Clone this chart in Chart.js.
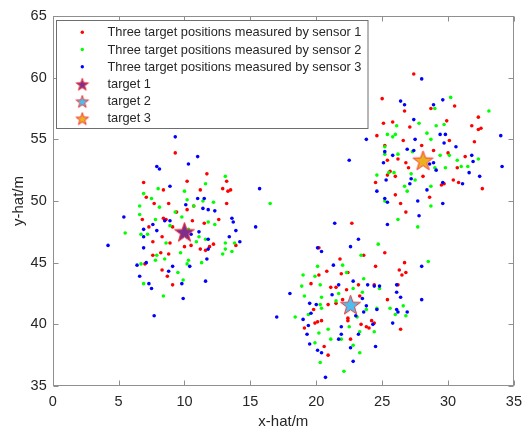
<!DOCTYPE html>
<html>
<head>
<meta charset="utf-8">
<script src="https://cdn.jsdelivr.net/npm/chart.js@4"></script>
<style>
  html, body { margin: 0; padding: 0; background: #fff; }
</style>
</head>
<body>
<canvas id="plot" width="529" height="429"></canvas>
<script>
// measured positions, one list per sensor, [x, y] in metres
const sensor1 = [
  [9.3,53.9],[11.7,52.2],[6.9,51.5],[10.2,51.6],[13.2,51.6],[12.9,51.0],[13.3,50.8],[13.5,50.9],[11.2,50.9],[8.4,50.9],
  [7.1,50.3],[7.7,49.8],[8.8,49.8],[13.2,49.8],[10.2,49.3],[10.7,49.6],[9.4,49.1],[6.8,48.5],[8.4,48.6],[8.6,48.5],
  [10.6,48.4],[12.6,48.5],[11.5,48.2],[7.3,47.9],[9.1,47.9],[8.3,47.1],[8.9,46.6],[10.0,46.3],[10.5,46.4],[11.2,46.1],
  [11.9,46.3],[7.6,46.7],[7.6,45.6],[8.2,45.8],[8.8,45.7],[11.6,46.0],[12.2,46.5],[13.9,46.4],[8.3,44.4],[8.7,43.9],
  [9.1,43.2],[7.0,44.9],
  [22.7,48.2],[20.2,46.2],[21.8,45.3],[23.6,45.6],[24.5,44.7],[25.2,45.8],[26.7,45.0],[26.3,44.4],[26.8,44.2],[26.5,44.0],
  [20.8,44.3],[20.2,44.0],[19.6,43.3],[21.9,44.1],[22.4,44.2],[23.2,43.2],[24.4,43.2],[26.2,43.2],[21.1,43.0],[21.5,43.0],
  [22.3,42.8],[23.3,42.3],[22.0,42.0],[21.5,41.7],[20.9,41.6],[25.4,42.0],[19.8,41.2],[20.1,40.2],[19.9,40.1],[20.4,40.3],
  [19.1,39.7],[22.4,40.5],[22.4,40.3],[23.4,40.0],[23.8,39.8],[24.0,39.7],[24.4,40.1],[24.2,40.3],[26.4,39.6],[22.6,38.8],
  [20.6,38.2],[20.9,37.5],
  [27.4,60.3],[25.0,58.3],[26.7,57.3],[28.7,57.5],[30.5,57.7],[25.1,56.3],[25.8,56.4],[27.1,56.0],[29.9,56.5],[32.3,56.8],
  [31.8,56.1],[32.5,55.9],[32.3,55.8],[24.6,55.3],[25.2,54.5],[26.6,54.9],[28.0,54.5],[30.1,54.9],[32.0,54.8],[26.2,53.4],
  [26.8,53.1],[27.0,52.7],[25.4,53.3],[28.9,54.1],[30.0,53.9],[31.3,53.6],[30.7,52.7],[25.4,52.1],[26.0,52.0],[25.6,52.4],
  [28.1,52.0],[30.4,51.7],[30.8,51.5],[29.7,51.4],[29.5,51.3],[24.5,51.5],[26.0,50.5],[26.4,49.8],[26.8,49.1],[28.6,50.3],
  [32.6,51.0]
];
const sensor2 = [
  [13.1,52.0],[11.6,51.4],[6.9,50.6],[7.5,50.2],[8.0,51.0],[10.0,50.8],[10.2,50.1],[12.2,49.9],[10.7,49.6],[6.6,49.6],
  [8.1,49.5],[9.3,49.1],[9.8,48.7],[7.8,48.5],[6.6,48.9],[5.5,47.4],[7.2,47.3],[6.7,47.3],[8.9,48.0],[11.8,48.3],
  [12.3,48.1],[10.3,47.7],[11.1,47.1],[10.9,46.7],[8.6,46.6],[7.9,45.6],[7.8,45.2],[8.5,45.3],[9.7,45.8],[10.3,45.2],
  [10.2,44.9],[11.3,45.0],[13.1,46.6],[13.1,46.1],[13.6,45.9],[12.9,45.7],[13.8,46.6],[11.6,46.9],[9.5,44.2],[9.9,43.6],
  [6.9,43.3],[8.4,42.3],[16.5,49.8],[11.4,50.0],[6.7,44.9],
  [24.7,46.5],[23.4,45.6],[28.5,45.1],[22.0,44.8],[20.1,44.7],[19.9,43.9],[19.0,44.0],[23.6,43.7],[22.3,44.2],[20.3,43.2],
  [18.9,43.1],[19.1,42.3],[20.4,42.2],[21.7,42.5],[22.8,42.9],[23.5,42.6],[24.8,42.9],[21.5,41.9],[20.3,41.6],[20.4,41.3],
  [18.4,40.6],[19.4,40.8],[23.8,41.2],[24.6,41.3],[25.6,41.3],[26.6,41.5],[26.8,40.7],[26.0,40.8],[22.5,39.8],[23.1,40.6],
  [20.9,39.6],[20.2,39.3],[21.1,38.8],[21.9,38.8],[23.3,39.4],[24.4,39.4],[19.9,38.5],[22.8,38.3],[23.3,37.7],[20.3,36.9],
  [22.1,36.2],
  [30.2,58.4],[29.0,57.5],[33.1,57.3],[26.1,56.1],[27.8,56.3],[29.1,56.1],[29.7,56.2],[25.4,55.4],[26.0,55.4],[25.8,55.2],
  [25.2,54.4],[28.4,55.5],[28.7,55.0],[27.3,54.0],[26.2,53.8],[25.2,53.8],[29.4,53.7],[30.1,53.7],[30.7,53.3],[31.0,52.8],
  [31.5,52.8],[32.3,53.4],[29.0,52.7],[27.2,52.2],[27.5,51.7],[24.6,52.1],[25.5,52.3],[25.9,52.3],[26.7,51.2],[26.9,50.8],
  [28.7,51.2],[25.2,50.0],[26.2,48.5],[27.7,47.9],[28.7,49.6],[29.8,52.7]
];
const sensor3 = [
  [9.3,55.2],[10.3,53.0],[11.0,53.6],[7.9,52.8],[8.1,52.6],[8.9,51.2],[15.7,51.0],[5.4,48.7],[4.2,46.4],[15.4,47.9],
  [11.0,50.2],[11.5,50.2],[11.4,49.4],[11.8,49.3],[12.3,49.2],[13.6,48.6],[13.7,48.3],[13.9,47.6],[13.4,47.1],[14.2,46.7],
  [6.9,47.7],[6.9,47.1],[6.9,46.2],[7.1,45.0],[6.4,44.8],[6.6,43.9],[7.3,43.3],[7.5,42.9],[7.7,40.7],[8.9,48.4],
  [7.9,47.6],[9.1,44.7],[8.8,44.3],[9.8,43.3],[9.9,42.1],[11.6,43.5],[10.4,44.7],[10.5,47.3],[11.1,47.5],[11.8,46.9],
  [11.8,46.1],[11.7,45.3],[8.5,48.4],[7.6,48.1],[10.1,49.7],
  [22.5,53.3],[21.4,48.2],[23.2,46.9],[22.6,46.3],[20.1,46.2],[20.4,45.9],[21.3,44.8],[22.8,43.5],[21.7,43.2],[23.9,43.2],
  [24.4,43.1],[24.8,43.1],[21.2,42.4],[18.0,42.5],[23.5,42.1],[20.0,41.6],[19.5,41.7],[23.8,41.5],[24.6,41.2],[26.1,41.2],
  [26.2,41.0],[26.9,41.0],[26.1,43.2],[26.1,42.6],[26.4,42.2],[28.0,42.0],[28.0,44.7],[25.8,40.1],[23.6,41.0],[23.0,40.7],
  [24.3,40.0],[19.6,40.9],[19.0,40.4],[19.4,39.9],[21.7,38.8],[21.9,39.2],[21.9,39.8],[19.5,38.4],[19.3,39.2],[20.1,37.9],
  [20.4,37.7],[22.6,38.1],[23.2,39.2],[24.5,38.2],[22.8,37.0],[20.7,35.7],[17.0,40.6],
  [28.0,59.9],[26.4,58.1],[26.7,57.8],[28.9,57.8],[29.6,58.2],[27.4,56.6],[23.8,55.0],[34.0,55.3],[27.5,55.0],[29.4,55.4],
  [29.8,55.4],[29.7,54.7],[30.6,54.4],[25.2,54.0],[25.8,53.7],[27.4,54.1],[26.9,54.2],[31.8,53.7],[31.9,53.2],[25.1,53.1],
  [25.3,51.7],[28.9,53.1],[28.6,53.0],[29.1,52.5],[27.2,51.8],[27.1,51.4],[29.6,51.5],[31.1,51.4],[31.6,52.3],[32.4,52.0],
  [34.1,52.8],[24.6,50.8],[25.2,50.2],[25.4,49.9],[27.7,50.0],[29.6,49.8],[27.8,48.8],[25.4,48.1],[28.4,50.9]
];
const sensorLabels = [
  'Three target positions measured by sensor 1',
  'Three target positions measured by sensor 2',
  'Three target positions measured by sensor 3'
];
const sensorColors = ['#ff0000', '#00ff00', '#0000ff'];

// true target positions
const targetLabels = ['target 1', 'target 2', 'target 3'];
const targetX = [10.0, 22.6, 28.1];
const targetY = [47.5, 41.6, 53.3];
const targetColors = ['#7e2f8e', '#4dbeee', '#edb120'];

const xTicks = [0, 5, 10, 15, 20, 25, 30, 35];
const yTicks = [35, 40, 45, 50, 55, 60, 65];

const FONT = "'Liberation Sans', Arial, Helvetica, sans-serif";
const TEXT = '#262626';

// filled pentagram with red edge, used as point image
function makeStar(fill, r) {
  const c = document.createElement('canvas');
  const s = Math.ceil(r * 2 + 4);
  c.width = s;
  c.height = s;
  const g = c.getContext('2d');
  g.beginPath();
  for (let i = 0; i < 10; i++) {
    const rad = i % 2 === 0 ? r : r * 0.4;
    const a = -Math.PI / 2 + i * Math.PI / 5;
    const px = s / 2 + rad * Math.cos(a);
    const py = s / 2 + 1 + rad * Math.sin(a);
    if (i === 0) g.moveTo(px, py); else g.lineTo(px, py);
  }
  g.closePath();
  g.fillStyle = fill;
  g.fill();
  g.strokeStyle = '#f23a3a';
  g.lineWidth = 1;
  g.stroke();
  return c;
}

const bigStars = targetColors.map(c => makeStar(c, 10.5));
const smallStars = targetColors.map(c => makeStar(c, 6.6));

const datasets = [];
[sensor1, sensor2, sensor3].forEach((pts, i) => {
  datasets.push({
    label: sensorLabels[i],
    data: pts.map(p => ({ x: p[0], y: p[1] })),
    pointRadius: 1.8,
    pointBorderWidth: 0,
    pointBackgroundColor: sensorColors[i],
    order: 4 - i
  });
});
targetLabels.forEach((name, i) => {
  datasets.push({
    label: name,
    data: [{ x: targetX[i], y: targetY[i] }],
    pointStyle: bigStars[i],
    pointRadius: 10,
    order: 0
  });
});

// box around the axes with inward ticks, plus the boxed legend (MATLAB look)
const framePlugin = {
  id: 'frame',
  afterDatasetsDraw(chart) {
    const { ctx, chartArea: a, scales: { x, y } } = chart;
    const L = Math.round(a.left) + 0.5, R = Math.round(a.right) - 0.5;
    const T = Math.round(a.top) + 0.5, B = Math.round(a.bottom) - 0.5;
    ctx.save();
    ctx.strokeStyle = '#8f8f8f';
    ctx.lineWidth = 1;
    ctx.strokeRect(L, T, R - L, B - T);
    ctx.beginPath();
    xTicks.forEach(v => {
      const px = Math.round(x.getPixelForValue(v)) + 0.5;
      ctx.moveTo(px, B); ctx.lineTo(px, B - 5);
      ctx.moveTo(px, T); ctx.lineTo(px, T + 5);
    });
    yTicks.forEach(v => {
      const py = Math.round(y.getPixelForValue(v)) + 0.5;
      ctx.moveTo(L, py); ctx.lineTo(L + 5, py);
      ctx.moveTo(R, py); ctx.lineTo(R - 5, py);
    });
    ctx.stroke();

    // legend
    const lx = 56.5, ly = 20.5, lw = 311.5, lh = 108;
    ctx.fillStyle = '#ffffff';
    ctx.fillRect(lx, ly, lw, lh);
    ctx.strokeStyle = '#6e6e6e';
    ctx.strokeRect(lx, ly, lw, lh);
    ctx.font = '12.8px ' + FONT;
    ctx.textBaseline = 'middle';
    ctx.textAlign = 'left';
    chart.data.datasets.forEach((ds, i) => {
      const cy = 32.3 + i * 17.2;
      if (i < 3) {
        ctx.fillStyle = sensorColors[i];
        ctx.beginPath();
        ctx.arc(82.3, cy, 1.7, 0, Math.PI * 2);
        ctx.fill();
      } else {
        const st = smallStars[i - 3];
        ctx.drawImage(st, 82.3 - st.width / 2, cy - st.height / 2);
      }
      ctx.fillStyle = TEXT;
      ctx.fillText(ds.label, 107.5, cy + 0.5);
    });
    ctx.restore();
  }
};

new Chart(document.getElementById('plot'), {
  type: 'scatter',
  data: { datasets },
  options: {
    responsive: false,
    animation: false,
    devicePixelRatio: 1,
    layout: { padding: { top: 16, right: 8, bottom: 0, left: 0 } },
    plugins: { legend: { display: false }, tooltip: { enabled: false } },
    scales: {
      x: {
        type: 'linear',
        min: 0,
        max: 35,
        afterBuildTicks: s => { s.ticks = xTicks.map(v => ({ value: v })); },
        afterFit: s => { s.height = 43; },
        grid: { display: false, drawTicks: false },
        border: { display: false },
        ticks: { padding: 7, color: TEXT, font: { family: FONT, size: 14.5 }, maxRotation: 0 },
        title: { display: true, text: 'x-hat/m', color: TEXT, font: { family: FONT, size: 15, lineHeight: 1 }, padding: { top: 0, bottom: 0 } }
      },
      y: {
        type: 'linear',
        min: 35,
        max: 65,
        afterBuildTicks: s => { s.ticks = yTicks.map(v => ({ value: v })); },
        afterFit: s => { s.width = 52.7; },
        grid: { display: false, drawTicks: false },
        border: { display: false },
        ticks: { padding: 6, color: TEXT, font: { family: FONT, size: 14.5 } },
        title: { display: true, text: 'y-hat/m', color: TEXT, font: { family: FONT, size: 15, lineHeight: 1 }, padding: { top: 11, bottom: 0 } }
      }
    }
  },
  plugins: [framePlugin]
});
</script>
</body>
</html>
